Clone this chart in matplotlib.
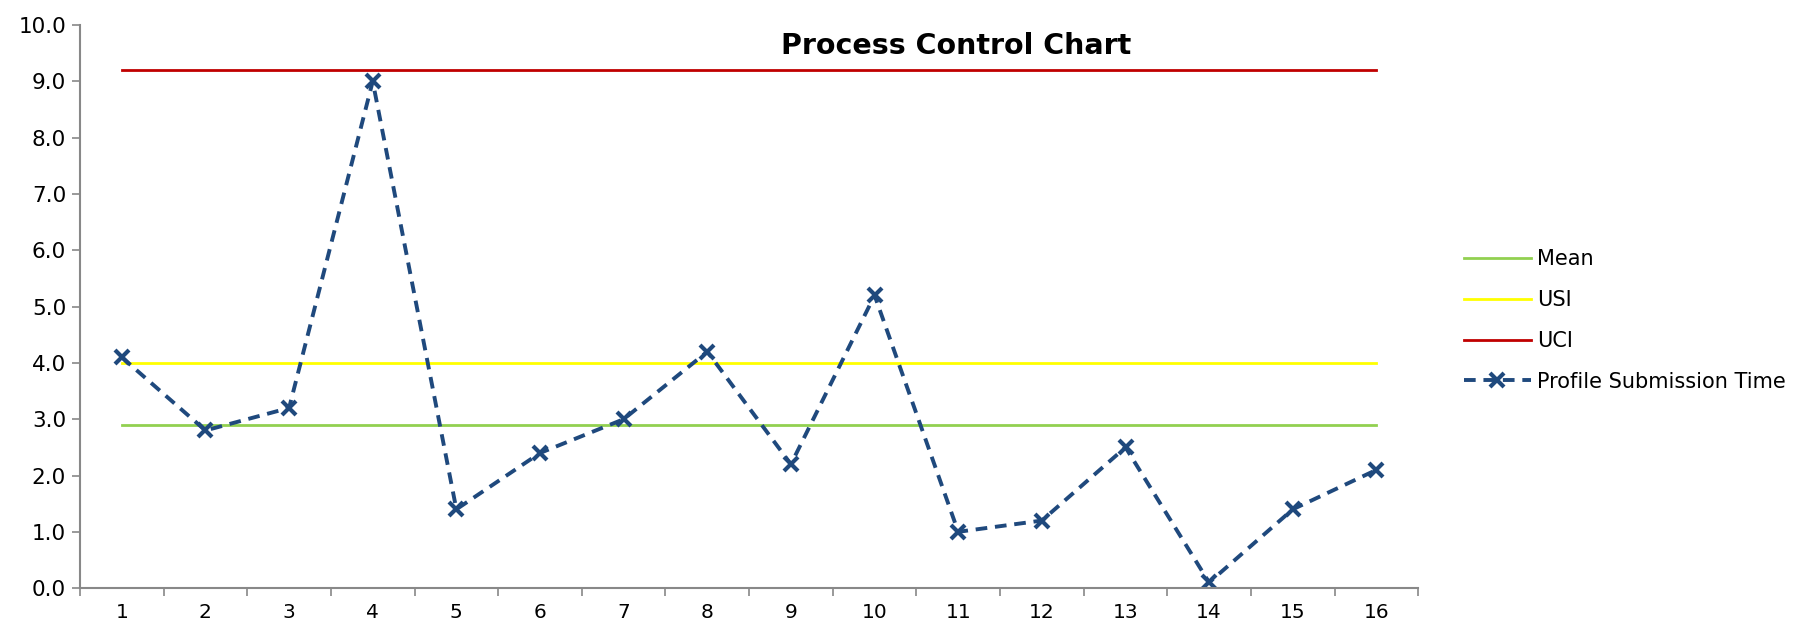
import matplotlib
matplotlib.use("Agg")
import matplotlib.pyplot as plt
import numpy as np

# data
samples = list(range(1, 17))
submission_time = [4.1, 2.8, 3.2, 9.0, 1.4, 2.4, 3.0, 4.2, 2.2, 5.2, 1.0, 1.2, 2.5, 0.1, 1.4, 2.1]
mean_val = 2.9
usi_val = 4.0
uci_val = 9.2

plt.rcParams['font.family'] = ['DejaVu Sans']

fig = plt.figure(figsize=(17.93, 6.27), dpi=100)
ax = fig.add_axes([0.0446, 0.062, 0.7464, 0.898])

ax.plot(samples, [mean_val] * len(samples), color='#92D050', lw=2, label='Mean')
ax.plot(samples, [usi_val] * len(samples), color='#FFFF00', lw=2, label='USI')
ax.plot(samples, [uci_val] * len(samples), color='#C00000', lw=2, label='UCI')
ax.plot(samples, submission_time, color='#1F497D', lw=2.8, ls=(0, (3, 2)),
        marker='x', ms=10, mew=3, label='Profile Submission Time')

ax.set_xlim(0.5, 16.5)
ax.set_ylim(0, 10)
ax.set_yticks(np.arange(0, 10.1, 1.0))
ax.set_yticklabels([f"{v:.1f}" for v in np.arange(0, 10.1, 1.0)], fontsize=15.5)
ax.set_xticks(samples)
ax.set_xticklabels([str(s) for s in samples], fontsize=14.5)
ax.set_xticks(np.arange(0.5, 16.6, 1.0), minor=True)
ax.tick_params(axis='x', which='major', length=0, pad=11)
ax.tick_params(axis='x', which='minor', length=6, color='#888888', width=1.2)
ax.tick_params(axis='y', length=6, color='#888888', width=1.2, pad=4)

for side in ['top', 'right']:
    ax.spines[side].set_visible(False)
for side in ['left', 'bottom']:
    ax.spines[side].set_color('#888888')
    ax.spines[side].set_linewidth(1.5)

fig.text(0.533, 0.926, 'Process Control Chart', ha='center', va='center',
         fontsize=20.5, fontweight='bold')

fig.legend(loc='center left', bbox_to_anchor=(0.806, 0.489), frameon=False,
           fontsize=15, handlelength=3.2, labelspacing=1.0, handletextpad=0.3)

fig.savefig('out.png', dpi=100)
